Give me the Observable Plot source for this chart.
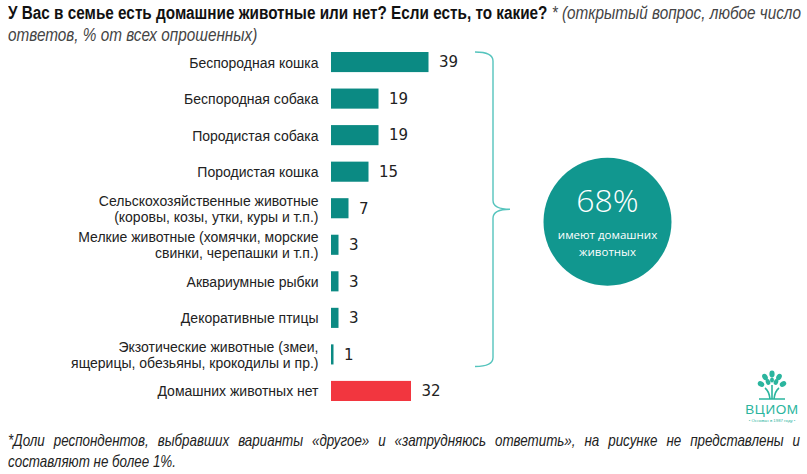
<!DOCTYPE html>
<html><head><meta charset="utf-8">
<script src="https://cdn.jsdelivr.net/npm/d3@7"></script>
<script src="https://cdn.jsdelivr.net/npm/@observablehq/plot@0.6"></script>
<style>
body{margin:0;background:#fff;width:807px;height:474px;overflow:hidden;position:relative;}
#title{height:45px;box-sizing:border-box;padding-top:2px;font-family:"Liberation Sans",Arial,sans-serif;font-size:17.5px;line-height:22px;color:#111;}
#title b{font-weight:bold;}
#title i{color:#444;}
#foot{box-sizing:border-box;padding-top:5px;font-family:"Liberation Sans",Arial,sans-serif;font-style:italic;font-size:16.5px;line-height:21px;color:#222;}
.ln{white-space:nowrap;transform-origin:0 0;margin-left:8px;display:block;}
#logo{position:absolute;left:731px;top:369px;width:82px;height:60px;}
</style></head>
<body>
<div id="title"><span class="ln" id="t1"><b>У Вас в семье есть домашние животные или нет? Если есть, то какие?</b> <i>* (открытый вопрос, любое число</i></span><span class="ln" id="t2"><i>ответов, % от всех опрошенных)</i></span></div>
<div id="chart"></div>
<div id="foot"><span class="ln" id="f1">*Доли респондентов, выбравших варианты «другое» и «затрудняюсь ответить», на рисунке не представлены и</span><span class="ln" id="f2">составляют не более 1%.</span></div>
<svg id="logo" viewBox="0 0 82 60">
  <g fill="#2bb59e">
    <ellipse cx="41" cy="5" rx="2.6" ry="3.4"/>
    <ellipse cx="34" cy="8" rx="2.6" ry="3.4" transform="rotate(-30 34 8)"/>
    <ellipse cx="48" cy="8" rx="2.6" ry="3.4" transform="rotate(30 48 8)"/>
    <ellipse cx="30" cy="15" rx="2.6" ry="3.4" transform="rotate(-60 30 15)"/>
    <ellipse cx="52" cy="15" rx="2.6" ry="3.4" transform="rotate(60 52 15)"/>
    <ellipse cx="37" cy="13" rx="2.2" ry="3" transform="rotate(-20 37 13)"/>
    <ellipse cx="45" cy="13" rx="2.2" ry="3" transform="rotate(20 45 13)"/>
    <ellipse cx="41" cy="11" rx="2" ry="2.6"/>
  </g>
  <path d="M41 16 V30 M34 19 Q38 22 39 30 M48 19 Q44 22 43 30 M28 30 H54" stroke="#2bb59e" stroke-width="1.6" fill="none"/>
  <text x="41" y="45" text-anchor="middle" font-family="Liberation Sans, sans-serif" font-size="13.5" fill="#2bb59e" letter-spacing="0.6">ВЦИОМ</text>
  <text x="41" y="53" text-anchor="middle" font-family="Liberation Sans, sans-serif" font-size="4.3" fill="#2bb59e">• Основан в 1987 году •</text>
</svg>
<script>
const categories = [
  "Беспородная кошка",
  "Беспородная собака",
  "Породистая собака",
  "Породистая кошка",
  "Сельскохозяйственные животные\n(коровы, козы, утки, куры и т.п.)",
  "Мелкие животные (хомячки, морские\nсвинки, черепашки и т.п.)",
  "Аквариумные рыбки",
  "Декоративные птицы",
  "Экзотические животные (змеи,\nящерицы, обезьяны, крокодилы и пр.)",
  "Домашних животных нет"
];
const values = [39, 19, 19, 15, 7, 3, 3, 3, 1, 32];
const groups = ["есть","есть","есть","есть","есть","есть","есть","есть","есть","нет"];
const summaryValue = "68%";
const summaryText = "имеют домашних\nживотных";

const data = categories.map((c, i) => ({cat: c, value: values[i], group: groups[i]}));
const petRows = categories.filter((c, i) => groups[i] === "есть");
const summaryRow = petRows[4];

const bracket = (index, scales, channels, dimensions) => {
  const y = scales.y, bw = y.bandwidth();
  const top = y(petRows[0]);
  const bot = y(petRows[petRows.length - 1]) + bw + 2;
  const mid = (top + bot) / 2;
  const xv = dimensions.marginLeft + 162, x0 = xv - 18, xt = xv + 17;
  const g = d3.create("svg:g");
  g.append("path")
    .attr("d", `M${x0},${top} Q${xv},${top} ${xv},${top+9} L${xv},${mid-9} Q${xv},${mid} ${xt},${mid} Q${xv},${mid} ${xv},${mid+9} L${xv},${bot-9} Q${xv},${bot} ${x0},${bot}`)
    .attr("fill", "none").attr("stroke", "#55c4bd").attr("stroke-width", 1.4);
  return g.node();
};

const chart = Plot.plot({
  width: 807,
  height: 380,
  marginLeft: 331,
  marginRight: 0,
  marginTop: 7,
  marginBottom: 24,
  x: {domain: [0, 190.4], axis: null},
  y: {domain: categories, axis: null, paddingInner: 0.45, paddingOuter: 0, round: false},
  color: {domain: ["есть", "нет"], range: ["#0b8a83", "#f2363f"]},
  marks: [
    Plot.barX(data, {x: "value", y: "cat", fill: "group"}),
    Plot.text(data, {x: "value", y: "cat", text: d => String(d.value), dx: 10, textAnchor: "start",
      fontSize: 15, fontFamily: "DejaVu Sans, sans-serif", fill: "#222"}),
    Plot.text(data, {x: 0, y: "cat", text: "cat", dx: -13, textAnchor: "end", lineHeight: 1.12,
      fontSize: 14, fontFamily: "Liberation Sans, Arial, sans-serif", fill: "#222"}),
    bracket,
    Plot.dot([{x: 110.4, y: summaryRow}], {x: "x", y: "y", dy: 13, r: 64, fill: "#11978f", stroke: null}),
    Plot.text([{x: 110.4, y: summaryRow}], {x: "x", y: "y", dy: -7, text: () => summaryValue, textAnchor: "middle",
      fontSize: 32, fontWeight: 300, fontFamily: "Open Sans, Lato, sans-serif", fill: "#fff"}),
    Plot.text([{x: 110.4, y: summaryRow}], {x: "x", y: "y", dy: 33, text: () => summaryText, textAnchor: "middle", lineHeight: 1.48,
      fontSize: 11.5, fontFamily: "Open Sans, Liberation Sans, sans-serif", fill: "#fff"})
  ]
});
document.getElementById("chart").appendChild(chart);

// condensed look: scale lines horizontally to match the reference widths
function fit(id, target) {
  const el = document.getElementById(id);
  const w = el.getBoundingClientRect().width;
  return target / w;
}
const t1 = document.getElementById("t1"), t2 = document.getElementById("t2");
t1.style.display = "inline-block"; t2.style.display = "inline-block";
const st = fit("t1", 793);
t1.style.display = "block"; t2.style.display = "block";
t1.style.transform = t2.style.transform = `scaleX(${st})`;

const f1 = document.getElementById("f1"), f2 = document.getElementById("f2");
f2.style.display = "inline-block";
const sf = fit("f2", 168);
f2.style.display = "block";
f2.style.transform = `scaleX(${sf})`;
// first footnote line: justify across full width
f1.style.display = "inline-block";
const w1 = f1.getBoundingClientRect().width;
const words = f1.textContent.split(" ").length;
const extra = (792 / sf - w1) / (words - 1);
f1.style.display = "block";
f1.style.wordSpacing = extra + "px";
f1.style.transform = `scaleX(${sf})`;
</script>
</body></html>
